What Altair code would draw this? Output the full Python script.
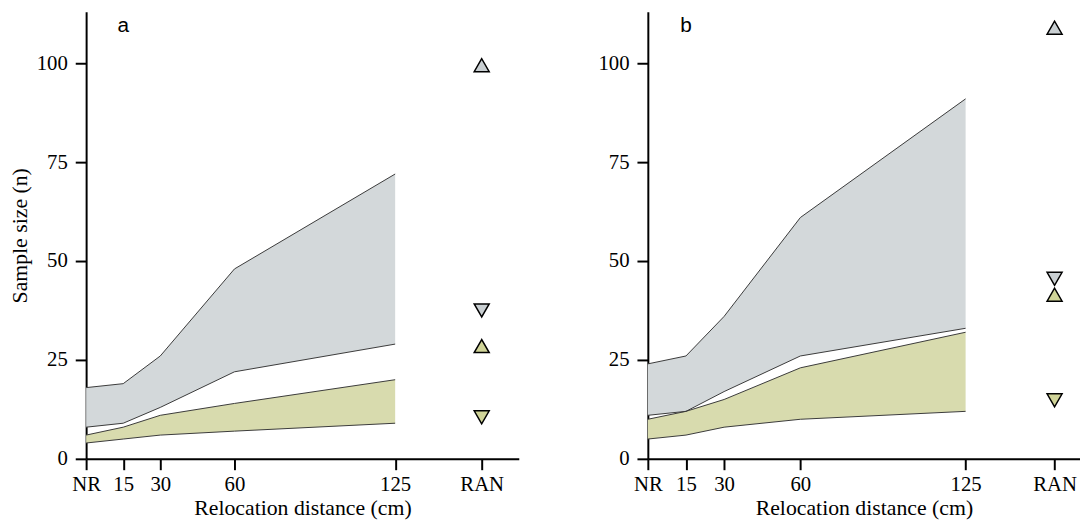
import altair as alt
import pandas as pd

# ---------------- data ----------------
distance = [0, 15, 30, 60, 125]
tick_values = [0, 15, 30, 60, 125, 160]
tick_labels = ["NR", "15", "30", "60", "125", "RAN"]
ran_x = 160
y_ticks = [0, 25, 50, 75, 100]

# panel a
a_gray_upper = [18, 19, 26, 48, 72]
a_gray_lower = [8, 9, 13, 22, 29]
a_green_upper = [6, 8, 11, 14, 20]
a_green_lower = [4, 5, 6, 7, 9]
a_ran_gray = [99.5, 37.5]    # up, down
a_ran_green = [28.5, 10.5]   # up, down

# panel b
b_gray_upper = [24, 26, 36, 61, 91]
b_gray_lower = [11, 12, 17, 26, 33]
b_green_upper = [10, 12, 15, 23, 32]
b_green_lower = [5, 6, 8, 10, 12]
b_ran_gray = [109, 45.5]
b_ran_green = [41.5, 14.8]

groups = ["gray", "green"]
band_colors = ["#d3d8da", "#d8dbae"]
marker_colors = ["#c9cfd2", "#d0d498"]

label_expr = " : ".join(
    [f"datum.value == {v} ? '{l}'" for v, l in zip(tick_values, tick_labels)]
) + " : datum.label"

SERIF = "Liberation Serif"


def make_panel(letter, gu, gl, eu, el, rg, re, x_max, width, y_title):
    bands = pd.DataFrame({
        "distance": distance * 2,
        "group": ["gray"] * len(distance) + ["green"] * len(distance),
        "lower": gl + el,
        "upper": gu + eu,
    })
    lines = bands.melt(id_vars=["distance", "group"], value_vars=["lower", "upper"],
                       var_name="bound", value_name="n")
    lines["key"] = lines["group"] + "_" + lines["bound"]
    pts = pd.DataFrame({
        "distance": [ran_x] * 4,
        "group": ["gray", "gray", "green", "green"],
        "dir": ["up", "down", "up", "down"],
        "n": rg + re,
    })
    lab = pd.DataFrame({"distance": [15], "n": [107.8], "label": [letter]})

    xscale = alt.Scale(domain=[0, x_max], nice=False, zero=True)
    yscale = alt.Scale(domain=[0, 113], nice=False, zero=True)
    xaxis = alt.Axis(values=tick_values, labelExpr=label_expr, grid=False,
                     tickSize=11, tickWidth=2, tickColor="black",
                     domainWidth=2, domainColor="black",
                     labelFont=SERIF, labelFontSize=21, labelColor="black",
                     labelPadding=4, labelFlush=False, labelOverlap=False,
                     title="Relocation distance (cm)", titleFont=SERIF,
                     titleFontSize=22, titleFontWeight="normal", titleColor="black",
                     titlePadding=3)
    yaxis = alt.Axis(values=y_ticks, grid=False, tickSize=11, tickWidth=2,
                     tickColor="black", domainWidth=2, domainColor="black",
                     labelFont=SERIF, labelFontSize=21, labelColor="black",
                     labelPadding=8, title=y_title, titleFont=SERIF,
                     titleFontSize=22, titleFontWeight="normal", titleColor="black",
                     titlePadding=5)

    x = alt.X("distance:Q", scale=xscale, axis=xaxis)
    area = alt.Chart(bands).mark_area(opacity=1).encode(
        x=x,
        y=alt.Y("lower:Q", scale=yscale, axis=yaxis),
        y2="upper:Q",
        color=alt.Color("group:N", scale=alt.Scale(domain=groups, range=band_colors),
                        legend=None),
    )
    line = alt.Chart(lines).mark_line(color="#3a3a3a", strokeWidth=1).encode(
        x=x,
        y=alt.Y("n:Q", scale=yscale),
        detail="key:N",
    )
    points = alt.Chart(pts).mark_point(filled=True, size=230, stroke="black",
                                       strokeWidth=1.5, opacity=1).encode(
        x=x,
        y=alt.Y("n:Q", scale=yscale),
        shape=alt.Shape("dir:N", scale=alt.Scale(domain=["up", "down"],
                                                 range=["triangle-up", "triangle-down"]),
                        legend=None),
        fill=alt.Fill("group:N", scale=alt.Scale(domain=groups, range=marker_colors),
                      legend=None),
    )
    text = alt.Chart(lab).mark_text(font="Liberation Sans", fontSize=21,
                                    align="center", baseline="alphabetic",
                                    color="black").encode(
        x=x,
        y=alt.Y("n:Q", scale=yscale),
        text="label:N",
    )
    return alt.layer(area, line, points, text).properties(width=width, height=452)


panel_a = make_panel("a", a_gray_upper, a_gray_lower, a_green_upper, a_green_lower,
                     a_ran_gray, a_ran_green, 175, 437.5, "Sample size (n)")
panel_b = make_panel("b", b_gray_upper, b_gray_lower, b_green_upper, b_green_lower,
                     b_ran_gray, b_ran_green, 170, 437, "")

chart = alt.hconcat(panel_a, panel_b, spacing=79).resolve_scale(
    x="independent", y="independent"
).properties(
    padding={"left": 0, "top": 1, "right": 0, "bottom": 0},
    background="white",
).configure_view(stroke=None)

chart.save("out.html", embed_options={"renderer": "svg", "actions": False})
